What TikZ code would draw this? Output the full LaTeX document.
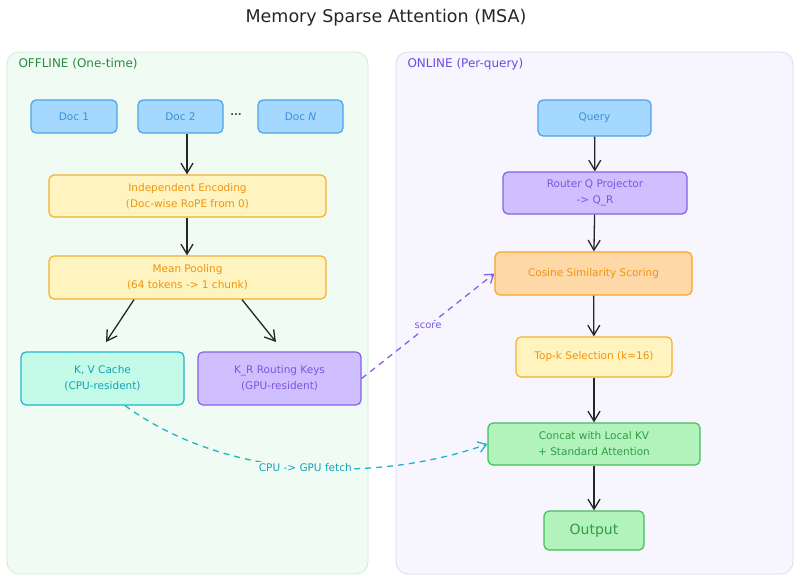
\documentclass[tikz,border=0pt]{standalone}
\usepackage{fontspec}
\setmainfont{DejaVu Sans}
\usetikzlibrary{arrows.meta,calc}
\definecolor{bluefill}{HTML}{A5D8FF}
\definecolor{bluedraw}{HTML}{4DA3E8}
\definecolor{bluetext}{HTML}{3F8FD6}
\definecolor{yelfill}{HTML}{FFF3BF}
\definecolor{yeldraw}{HTML}{F5B02E}
\definecolor{yeltext}{HTML}{EE950F}
\definecolor{orfill}{HTML}{FFD8A8}
\definecolor{ordraw}{HTML}{F5A623}
\definecolor{purfill}{HTML}{D0BFFF}
\definecolor{purdraw}{HTML}{8660E8}
\definecolor{purtext}{HTML}{7B55E0}
\definecolor{tealfill}{HTML}{C3FAE8}
\definecolor{tealdraw}{HTML}{1FB5C8}
\definecolor{tealtext}{HTML}{16A2B8}
\definecolor{grfill}{HTML}{B2F2BB}
\definecolor{grdraw}{HTML}{40C057}
\definecolor{grtext}{HTML}{2F9E44}
\definecolor{offbg}{HTML}{F0FBF4}
\definecolor{offdraw}{HTML}{CDEBD6}
\definecolor{offtext}{HTML}{2B8A3E}
\definecolor{onbg}{HTML}{F7F5FE}
\definecolor{ondraw}{HTML}{DDD7F5}
\definecolor{ontext}{HTML}{7048E8}
\tikzset{
  box/.style={draw, rounded corners=5pt, line width=1.2pt, align=center, inner sep=0pt,
    font=\fontsize{10.5}{16}\selectfont},
  bluebox/.style={box, fill=bluefill, draw=bluedraw, text=bluetext},
  yelbox/.style={box, fill=yelfill, draw=yeldraw, text=yeltext},
  orbox/.style={box, fill=orfill, draw=ordraw, text=yeltext},
  purbox/.style={box, fill=purfill, draw=purdraw, text=purtext},
  tealbox/.style={box, fill=tealfill, draw=tealdraw, text=tealtext},
  grbox/.style={box, fill=grfill, draw=grdraw, text=grtext},
  panel/.style={rounded corners=12pt, line width=0.8pt},
  flow/.style={line width=1.3pt, draw=black!85, -{Straight Barb[length=10pt,width=12pt,line width=1.3pt]}},
  dflow/.style={line width=1.3pt, dashed, dash pattern=on 6pt off 5pt, -{Straight Barb[length=8pt,width=11pt,line width=1.3pt]}},
}
\begin{document}
\begin{tikzpicture}[x=1pt,y=-1pt]
\useasboundingbox (0,0) rectangle (800,582);
\fill[white] (0,0) rectangle (800,582);
% title
\node[font=\fontsize{17.5}{20}\selectfont, text=black!85] (title) at (386,18) {Memory Sparse Attention (MSA)};
% panels
\draw[panel, fill=offbg, draw=offdraw] (7,52) rectangle (368,574);
\draw[panel, fill=onbg, draw=ondraw] (396,52) rectangle (793,574);
\node[anchor=west, text=offtext, font=\fontsize{12}{14}\selectfont] (offl) at (15,64) {OFFLINE (One-time)};
\node[anchor=west, text=ontext, font=\fontsize{12}{14}\selectfont] (onl) at (404,64) {ONLINE (Per-query)};
% offline nodes
\node[bluebox, minimum width=86pt, minimum height=33pt] (d1) at (74,116.5) {Doc 1};
\node[bluebox, minimum width=85pt, minimum height=33pt] (d2) at (180.5,116.5) {Doc 2};
\node[text=black!70, font=\fontsize{10}{12}\selectfont\bfseries] (dots) at (236,115) {...};
\node[bluebox, minimum width=85pt, minimum height=33pt] (dn) at (300.5,116.5) {Doc \textit{N}};
\node[yelbox, minimum width=277pt, minimum height=42pt] (enc) at (187.5,196) {Independent Encoding\\(Doc-wise RoPE from 0)};
\node[yelbox, minimum width=277pt, minimum height=43pt] (pool) at (187.5,277.5) {Mean Pooling\\(64 tokens -> 1 chunk)};
\node[tealbox, minimum width=163pt, minimum height=53pt] (kv) at (102.5,378.5) {K, V Cache\\(CPU-resident)};
\node[purbox, minimum width=163pt, minimum height=53pt] (kr) at (279.5,378.5) {K\_R Routing Keys\\(GPU-resident)};
% online nodes
\node[bluebox, minimum width=113pt, minimum height=36pt] (q) at (594.5,118) {Query};
\node[purbox, minimum width=184pt, minimum height=42pt] (rq) at (595,193) {Router Q Projector\\-> Q\_R};
\node[orbox, minimum width=197pt, minimum height=43pt] (cos) at (593.5,273.5) {Cosine Similarity Scoring};
\node[yelbox, minimum width=156pt, minimum height=40pt] (topk) at (594,357) {Top-k Selection (k=16)};
\node[grbox, minimum width=212pt, minimum height=42pt] (cat) at (594,444) {Concat with Local KV\\+ Standard Attention};
\node[grbox, minimum width=100pt, minimum height=39pt, font=\fontsize{14}{16}\selectfont] (out) at (594,530.5) {Output};
% solid arrows
\draw[flow] (d2.south -| 187,0) -- (enc.north -| 187,0);
\draw[flow] (enc.south -| 187,0) -- (pool.north -| 187,0);
\coordinate (kvin) at (106,342);
\coordinate (krin) at (276,342);
\draw[flow] (pool.south -| 134,0) -- (kvin);
\draw[flow] (pool.south -| 242,0) -- (krin);
\draw[flow] (q) -- (rq);
\draw[flow] (rq) -- (cos);
\draw[flow] (cos) -- (topk);
\draw[flow] (topk) -- (cat);
\draw[flow] (cat) -- (out);
% dashed
\draw[dflow, draw=purdraw] (kr.east) -- node[pos=0.5, fill=onbg, inner sep=2pt, text=purtext, font=\fontsize{10}{12}\selectfont] (scorelbl) {score} (cos.west);
\draw[dflow, draw=tealdraw] (kv.south -| 125,0) .. controls (230,482) and (380,482) .. node[pos=0.5, fill=offbg, inner sep=1.5pt, text=tealtext, font=\fontsize{10.5}{12}\selectfont] (fetchlbl) {CPU -> GPU fetch} (cat.west);
\end{tikzpicture}
\end{document}
